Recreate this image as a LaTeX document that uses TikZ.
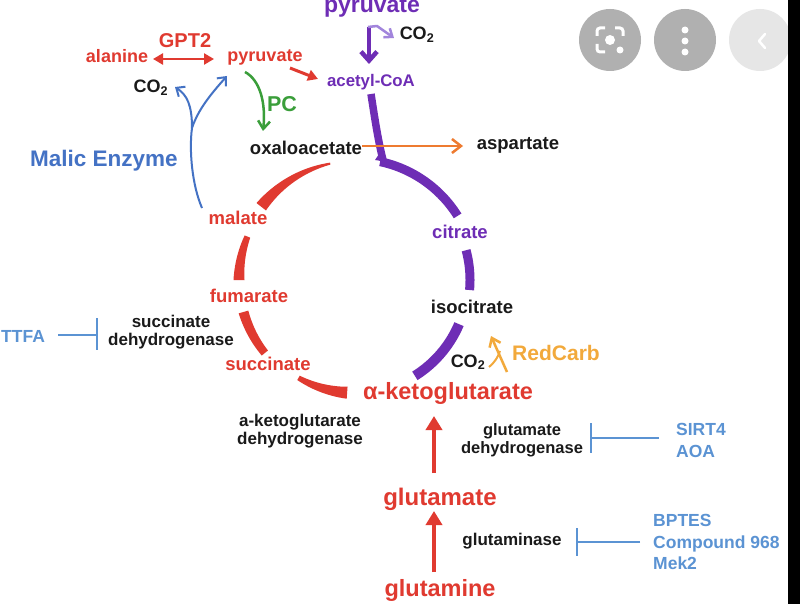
\documentclass[tikz,border=0pt]{standalone}
\usepackage{fontspec}
\setmainfont{Liberation Sans}
\usetikzlibrary{arrows.meta}
\definecolor{cred}{HTML}{E03A30}
\definecolor{cpur}{HTML}{6E2DB5}
\definecolor{clpur}{HTML}{A285DC}
\definecolor{cblue}{HTML}{4472C4}
\definecolor{cinh}{HTML}{5B93D3}
\definecolor{cgreen}{HTML}{3A9E3A}
\definecolor{corange}{HTML}{EE7B30}
\definecolor{camber}{HTML}{F2A93B}
\definecolor{ctext}{HTML}{1A1A1A}
\definecolor{cbtn}{HTML}{B0B0B0}
\definecolor{cbtnl}{HTML}{E6E6E6}
\newcommand\fsz[1]{\fontsize{#1}{#1}\selectfont}
% tapered arc of the cycle: colour, angle1, angle2, width1, width2, radius
\newcommand\tcarc[6]{%
  \fill[#1] plot[domain=#2:#3,samples=40,variable=\t]
    ({355+(#6+((#4)+((#5)-(#4))*(\t-(#2))/((#3)-(#2)))/2)*cos(\t)},
     {280-(#6+((#4)+((#5)-(#4))*(\t-(#2))/((#3)-(#2)))/2)*sin(\t)})
  -- plot[domain=#3:#2,samples=40,variable=\t]
    ({355+(#6-((#4)+((#5)-(#4))*(\t-(#2))/((#3)-(#2)))/2)*cos(\t)},
     {280-(#6-((#4)+((#5)-(#4))*(\t-(#2))/((#3)-(#2)))/2)*sin(\t)})
  -- cycle;}
\begin{document}
\begin{tikzpicture}[x=1pt,y=-1pt,
  lbl/.style={inner sep=0pt,anchor=base,text=ctext,font=\bfseries\fsz{17}},
  redlbl/.style={lbl,text=cred,font=\bfseries\fsz{18.5}},
  biglbl/.style={lbl,text=cred,font=\bfseries\fsz{23.5}},
  inhlbl/.style={lbl,anchor=base west,text=cinh,font=\bfseries\fsz{17.5}},
  inh/.style={draw=cinh,line width=2},
  openhead/.style={-{Straight Barb[length=8,width=12]}},
  bigup/.style={draw=cred,line width=4.5,-{Triangle[length=14,width=16]}}]
\useasboundingbox (0,0) rectangle (800,604);
\fill[white] (0,0) rectangle (800,604);

% ---- cycle arcs ----
\tcarc{cred}{102}{142}{2}{12}{119}
\tcarc{cred}{158}{180}{6}{11}{116}
\tcarc{cred}{196}{219}{10}{8}{116}
\tcarc{cred}{240}{266}{5}{12}{113}
\tcarc{cpur}{78}{32}{9}{9}{121}
\tcarc{cpur}{15}{-5}{9}{9}{115}
\tcarc{cpur}{-23}{-58}{10}{10}{113}

% ---- labels ----
\node[lbl,text=cpur,font=\bfseries\fsz{23}] (pyrtop) at (372,13) {pyruvate};
\node[lbl,font=\bfseries\fsz{18}] (co2a) at (417,40) {CO\textsubscript{2}};
\node[lbl,text=cpur,font=\bfseries\fsz{16.8}] (acoa) at (371,87) {acetyl-CoA};
\node[redlbl,font=\bfseries\fsz{18}] (ala) at (117,63) {alanine};
\node[redlbl,font=\bfseries\fsz{20}] (gpt) at (185,48) {GPT2};
\node[redlbl,font=\bfseries\fsz{18}] (pyr) at (265,62) {pyruvate};
\node[lbl,font=\bfseries\fsz{18}] (co2b) at (151,93) {CO\textsubscript{2}};
\node[lbl,text=cblue,font=\bfseries\fsz{22.5}] (me) at (104,167) {Malic Enzyme};
\node[lbl,text=cgreen,font=\bfseries\fsz{21.5}] (pc) at (282,112) {PC};
\node[lbl,font=\bfseries\fsz{18.5}] (oaa) at (306,155) {oxaloacetate};
\node[lbl,font=\bfseries\fsz{18.5}] (asp) at (518,150) {aspartate};
\node[redlbl] (mal) at (238,225) {malate};
\node[redlbl] (fum) at (249,302) {fumarate};
\node[redlbl] (suc) at (268,370) {succinate};
\node[lbl,text=cpur,font=\bfseries\fsz{18.5}] (cit) at (460,238) {citrate};
\node[lbl,font=\bfseries\fsz{18.5}] (icit) at (472,313) {isocitrate};
\node[lbl,font=\bfseries\fsz{18}] (co2c) at (468,367) {CO\textsubscript{2}};
\node[lbl,text=camber,font=\bfseries\fsz{21}] (rc) at (556,360) {RedCarb};
\node[biglbl] (akg) at (448,399) {α-ketoglutarate};
\node[lbl] (akgdh1) at (300,426) {a-ketoglutarate};
\node[lbl] (akgdh2) at (300,444) {dehydrogenase};
\node[lbl,font=\bfseries\fsz{16.5}] (gdh1) at (522,435) {glutamate};
\node[lbl,font=\bfseries\fsz{16.5}] (gdh2) at (522,453) {dehydrogenase};
\node[inhlbl] (sirt) at (676,435) {SIRT4};
\node[inhlbl] (aoa) at (676,457) {AOA};
\node[biglbl,font=\bfseries\fsz{24}] (glu) at (440,505) {glutamate};
\node[lbl] (gls) at (512,545) {glutaminase};
\node[inhlbl] (bptes) at (653,526) {BPTES};
\node[inhlbl] (cmp) at (653,548) {Compound 968};
\node[inhlbl] (mek) at (653,569) {Mek2};
\node[biglbl] (gln) at (440,596) {glutamine};
\node[inhlbl] (ttfa) at (1,342) {TTFA};
\node[lbl] (sdh1) at (171,327) {succinate};
\node[lbl] (sdh2) at (171,345) {dehydrogenase};

% ---- connector end points ----
\coordinate (pyrtopS) at (369,27);
\coordinate (acoaN) at (369,64);
\coordinate (co2aW) at (394,38);
\coordinate (brk) at (377,26);
\coordinate (alaE) at (153,59);
\coordinate (pyrW) at (214,59);
\coordinate (pyrE) at (290,68);
\coordinate (acoaW) at (318,79);
\coordinate (pcA) at (245,72);
\coordinate (oaaN) at (263,131);
\coordinate (meB) at (202,208);
\coordinate (meF) at (192,128);
\coordinate (co2bE) at (175,87);
\coordinate (pyrSW) at (227,76);
\coordinate (oaaE) at (362,146);
\coordinate (aspW) at (463,146);
\coordinate (acoaS) at (371,94);
\coordinate (arcTop) at (383,160);
\coordinate (rcA) at (507,372);
\coordinate (icitS) at (491,336);
\coordinate (co2cE) at (489,367);
\coordinate (rcM) at (500,351);
\coordinate (gluN) at (434,473);
\coordinate (akgS) at (434,416);
\coordinate (glnN) at (434,572);
\coordinate (gluS) at (434,511);

% ---- connectors ----
\draw[cpur,line width=4.5,-{Straight Barb[length=9,width=16]}] (pyrtopS) -- (acoaN);
\draw[clpur,line width=2.5,-{Straight Barb[length=7,width=11]},line join=round] (368,27) -- (brk) -- (co2aW);
\draw[cred,line width=2.8,{Triangle[length=10,width=11]}-{Triangle[length=10,width=11]}] (alaE) -- (pyrW);
\draw[cred,line width=3,-{Triangle[length=10,width=11]}] (pyrE) -- (acoaW);
\draw[cgreen,line width=2.5,openhead] (pcA) .. controls (260,80) and (266,103) .. (oaaN);
\draw[cblue,line width=2] (meB) .. controls (192,185) and (189,150) .. (meF);
\draw[cblue,line width=2,-{Straight Barb[length=7,width=12]}] (meF) .. controls (192,105) and (187,95) .. (co2bE);
\draw[cblue,line width=2,-{Straight Barb[length=7,width=12]}] (meF) .. controls (198,110) and (210,95) .. (pyrSW);
\draw[cpur,line width=7.5] (acoaS) .. controls (375,120) and (378,140) .. (arcTop);
\fill[cpur] (381,151) -- (375,160) -- (388,162) -- cycle;
\draw[corange,line width=2.5,-{Straight Barb[length=9,width=14]}] (oaaE) -- (aspW);
\draw[camber,line width=2.5,-{Straight Barb[length=8,width=12]}] (rcA) -- (icitS);
\draw[camber,line width=2] (co2cE) .. controls (495,362) and (498,357) .. (rcM);
\draw[bigup] (gluN) -- (akgS);
\draw[bigup] (glnN) -- (gluS);

% ---- inhibitions ----
\coordinate (ttfaE) at (58,335);
\coordinate (sdhW) at (97,335);
\draw[inh] (ttfaE) -- (sdhW);
\draw[inh] (97,318) -- (97,350);
\coordinate (sirtW) at (659,438);
\coordinate (gdhE) at (591,438);
\draw[inh] (sirtW) -- (gdhE);
\draw[inh] (591,423) -- (591,453);
\coordinate (cmpW) at (640,542);
\coordinate (glsE) at (577,542);
\draw[inh] (cmpW) -- (glsE);
\draw[inh] (577,528) -- (577,556);

% ---- screenshot buttons ----
\fill[cbtn] (610,40) circle (31);
\draw[white,line width=3,rounded corners=3] (597,36) -- (597,28) -- (605,28);
\draw[white,line width=3,rounded corners=3] (615,28) -- (623,28) -- (623,36);
\draw[white,line width=3,rounded corners=3] (597,44) -- (597,52) -- (605,52);
\fill[white] (610,40) circle (5);
\fill[white] (620,50) circle (3.5);
\fill[cbtn] (685,40) circle (31);
\fill[white] (685,30) circle (3.5) (685,41) circle (3.5) (685,52) circle (3.5);
\fill[cbtnl] (760,40) circle (31);
\draw[white,line width=2.5,line cap=round,line join=round] (765,34) -- (759,41) -- (765,48);
\fill[black] (788,0) rectangle (800,604);
\end{tikzpicture}
\end{document}
